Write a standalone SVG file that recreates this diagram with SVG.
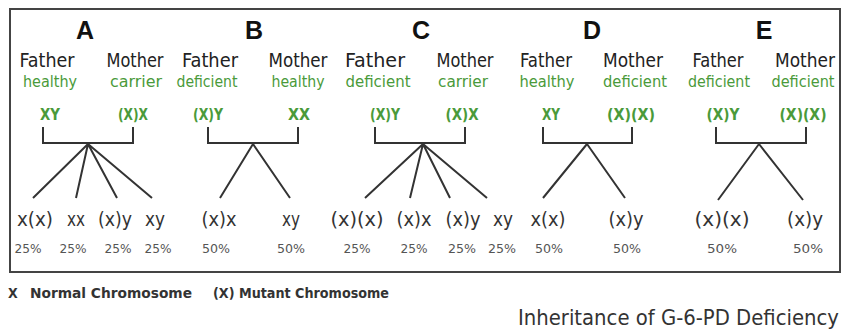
<svg xmlns="http://www.w3.org/2000/svg" width="842" height="329" viewBox="0 0 842 329">
<style>
text{font-family:"DejaVu Sans","Liberation Sans",sans-serif;font-stretch:condensed;text-anchor:middle;}
.hd{font-family:"Liberation Sans","DejaVu Sans",sans-serif;font-weight:bold;font-size:25px;fill:#111;font-stretch:normal;}
.par{font-size:20px;fill:#222;}
.st{font-size:15px;fill:#4a9a3a;}
.gt{font-size:16px;font-weight:bold;fill:#4a9a3a;}
.ch{font-size:19px;fill:#333;}
.pc{font-size:12px;fill:#555;}
.lg{font-size:14px;font-weight:bold;fill:#333;text-anchor:start;}
.tt{font-size:22px;fill:#333;text-anchor:start;}
.ln{stroke:#333;stroke-width:2;fill:none;}
</style>
<rect x="10" y="9" width="830" height="263" fill="#fff" stroke="#444" stroke-width="2"/>
<g id="connectors" class="ln">
<path d="M43,127V143H133V127"/>
<path d="M88,144L33,198M88,144L76,198M88,144L117,198M88,144L152,198"/>
<path d="M208,127V143H298V127"/>
<path d="M253,144L220,198M253,144L290,198"/>
<path d="M375,127V143H465V127"/>
<path d="M423,144L365,198M423,144L410,198M423,144L450,198M423,144L487,198"/>
<path d="M543,127V143H632V127"/>
<path d="M587,144L543,198M587,144L625,198"/>
<path d="M716,127V143H806V127"/>
<path d="M759,144L718,200M759,144L803,200"/>
</g>
<g id="familyA">
<text class="hd" x="85" y="39">A</text>
<text class="par" x="47" y="67" textLength="55" lengthAdjust="spacingAndGlyphs">Father</text>
<text class="par" x="135" y="67" textLength="57" lengthAdjust="spacingAndGlyphs">Mother</text>
<text class="st" x="50" y="87" textLength="54" lengthAdjust="spacingAndGlyphs">healthy</text>
<text class="st" x="136" y="87" textLength="52" lengthAdjust="spacingAndGlyphs">carrier</text>
<text class="gt" x="50" y="120" textLength="20" lengthAdjust="spacingAndGlyphs">XY</text>
<text class="gt" x="133" y="120" textLength="30" lengthAdjust="spacingAndGlyphs">(X)X</text>
<text class="ch" x="35" y="226" textLength="36" lengthAdjust="spacingAndGlyphs">x(x)</text>
<text class="ch" x="76" y="226" textLength="18" lengthAdjust="spacingAndGlyphs">xx</text>
<text class="ch" x="115" y="226" textLength="34" lengthAdjust="spacingAndGlyphs">(x)y</text>
<text class="ch" x="155" y="226" textLength="20" lengthAdjust="spacingAndGlyphs">xy</text>
<text class="pc" x="28" y="253" textLength="27" lengthAdjust="spacingAndGlyphs">25%</text>
<text class="pc" x="73" y="253" textLength="27" lengthAdjust="spacingAndGlyphs">25%</text>
<text class="pc" x="118" y="253" textLength="27" lengthAdjust="spacingAndGlyphs">25%</text>
<text class="pc" x="158" y="253" textLength="27" lengthAdjust="spacingAndGlyphs">25%</text>
</g>
<g id="familyB">
<text class="hd" x="254" y="39">B</text>
<text class="par" x="210" y="67" textLength="56" lengthAdjust="spacingAndGlyphs">Father</text>
<text class="par" x="298" y="67" textLength="59" lengthAdjust="spacingAndGlyphs">Mother</text>
<text class="st" x="207" y="87" textLength="61" lengthAdjust="spacingAndGlyphs">deficient</text>
<text class="st" x="298" y="87" textLength="53" lengthAdjust="spacingAndGlyphs">healthy</text>
<text class="gt" x="208" y="120" textLength="30" lengthAdjust="spacingAndGlyphs">(X)Y</text>
<text class="gt" x="299" y="120" textLength="22" lengthAdjust="spacingAndGlyphs">XX</text>
<text class="ch" x="219" y="226" textLength="35" lengthAdjust="spacingAndGlyphs">(x)x</text>
<text class="ch" x="291" y="226" textLength="18" lengthAdjust="spacingAndGlyphs">xy</text>
<text class="pc" x="216" y="253" textLength="28" lengthAdjust="spacingAndGlyphs">50%</text>
<text class="pc" x="291" y="253" textLength="28" lengthAdjust="spacingAndGlyphs">50%</text>
</g>
<g id="familyC">
<text class="hd" x="421" y="39">C</text>
<text class="par" x="375" y="67" textLength="60" lengthAdjust="spacingAndGlyphs">Father</text>
<text class="par" x="465" y="67" textLength="57" lengthAdjust="spacingAndGlyphs">Mother</text>
<text class="st" x="378" y="87" textLength="65" lengthAdjust="spacingAndGlyphs">deficient</text>
<text class="st" x="463" y="87" textLength="50" lengthAdjust="spacingAndGlyphs">carrier</text>
<text class="gt" x="385" y="120" textLength="30" lengthAdjust="spacingAndGlyphs">(X)Y</text>
<text class="gt" x="462" y="120" textLength="33" lengthAdjust="spacingAndGlyphs">(X)X</text>
<text class="ch" x="357" y="226" textLength="53" lengthAdjust="spacingAndGlyphs">(x)(x)</text>
<text class="ch" x="414" y="226" textLength="35" lengthAdjust="spacingAndGlyphs">(x)x</text>
<text class="ch" x="463" y="226" textLength="35" lengthAdjust="spacingAndGlyphs">(x)y</text>
<text class="ch" x="503" y="226" textLength="20" lengthAdjust="spacingAndGlyphs">xy</text>
<text class="pc" x="357" y="253" textLength="27" lengthAdjust="spacingAndGlyphs">25%</text>
<text class="pc" x="414" y="253" textLength="27" lengthAdjust="spacingAndGlyphs">25%</text>
<text class="pc" x="462" y="253" textLength="28" lengthAdjust="spacingAndGlyphs">25%</text>
<text class="pc" x="502" y="253" textLength="28" lengthAdjust="spacingAndGlyphs">25%</text>
</g>
<g id="familyD">
<text class="hd" x="592" y="39">D</text>
<text class="par" x="546" y="67" textLength="52" lengthAdjust="spacingAndGlyphs">Father</text>
<text class="par" x="633" y="67" textLength="60" lengthAdjust="spacingAndGlyphs">Mother</text>
<text class="st" x="547" y="87" textLength="55" lengthAdjust="spacingAndGlyphs">healthy</text>
<text class="st" x="635" y="87" textLength="64" lengthAdjust="spacingAndGlyphs">deficient</text>
<text class="gt" x="551" y="120" textLength="18" lengthAdjust="spacingAndGlyphs">XY</text>
<text class="gt" x="631" y="120" textLength="48" lengthAdjust="spacingAndGlyphs">(X)(X)</text>
<text class="ch" x="548" y="226" textLength="35" lengthAdjust="spacingAndGlyphs">x(x)</text>
<text class="ch" x="626" y="226" textLength="35" lengthAdjust="spacingAndGlyphs">(x)y</text>
<text class="pc" x="549" y="253" textLength="28" lengthAdjust="spacingAndGlyphs">50%</text>
<text class="pc" x="627" y="253" textLength="28" lengthAdjust="spacingAndGlyphs">50%</text>
</g>
<g id="familyE">
<text class="hd" x="764" y="39">E</text>
<text class="par" x="718" y="67" textLength="51" lengthAdjust="spacingAndGlyphs">Father</text>
<text class="par" x="805" y="67" textLength="60" lengthAdjust="spacingAndGlyphs">Mother</text>
<text class="st" x="719" y="87" textLength="62" lengthAdjust="spacingAndGlyphs">deficient</text>
<text class="st" x="803" y="87" textLength="63" lengthAdjust="spacingAndGlyphs">deficient</text>
<text class="gt" x="723" y="120" textLength="33" lengthAdjust="spacingAndGlyphs">(X)Y</text>
<text class="gt" x="803" y="120" textLength="47" lengthAdjust="spacingAndGlyphs">(X)(X)</text>
<text class="ch" x="722" y="226" textLength="55" lengthAdjust="spacingAndGlyphs">(x)(x)</text>
<text class="ch" x="805" y="226" textLength="36" lengthAdjust="spacingAndGlyphs">(x)y</text>
<text class="pc" x="722" y="253" textLength="30" lengthAdjust="spacingAndGlyphs">50%</text>
<text class="pc" x="808" y="253" textLength="30" lengthAdjust="spacingAndGlyphs">50%</text>
</g>
<g id="legend">
<text class="lg" x="8" y="298">X</text>
<text class="lg" x="30" y="298" textLength="162" lengthAdjust="spacingAndGlyphs">Normal Chromosome</text>
<text class="lg" x="213" y="298" textLength="176" lengthAdjust="spacingAndGlyphs">(X) Mutant Chromosome</text>
</g>
<g id="title">
<text class="tt" x="518" y="325" textLength="321" lengthAdjust="spacingAndGlyphs">Inheritance of G-6-PD Deficiency</text>
</g>
</svg>
